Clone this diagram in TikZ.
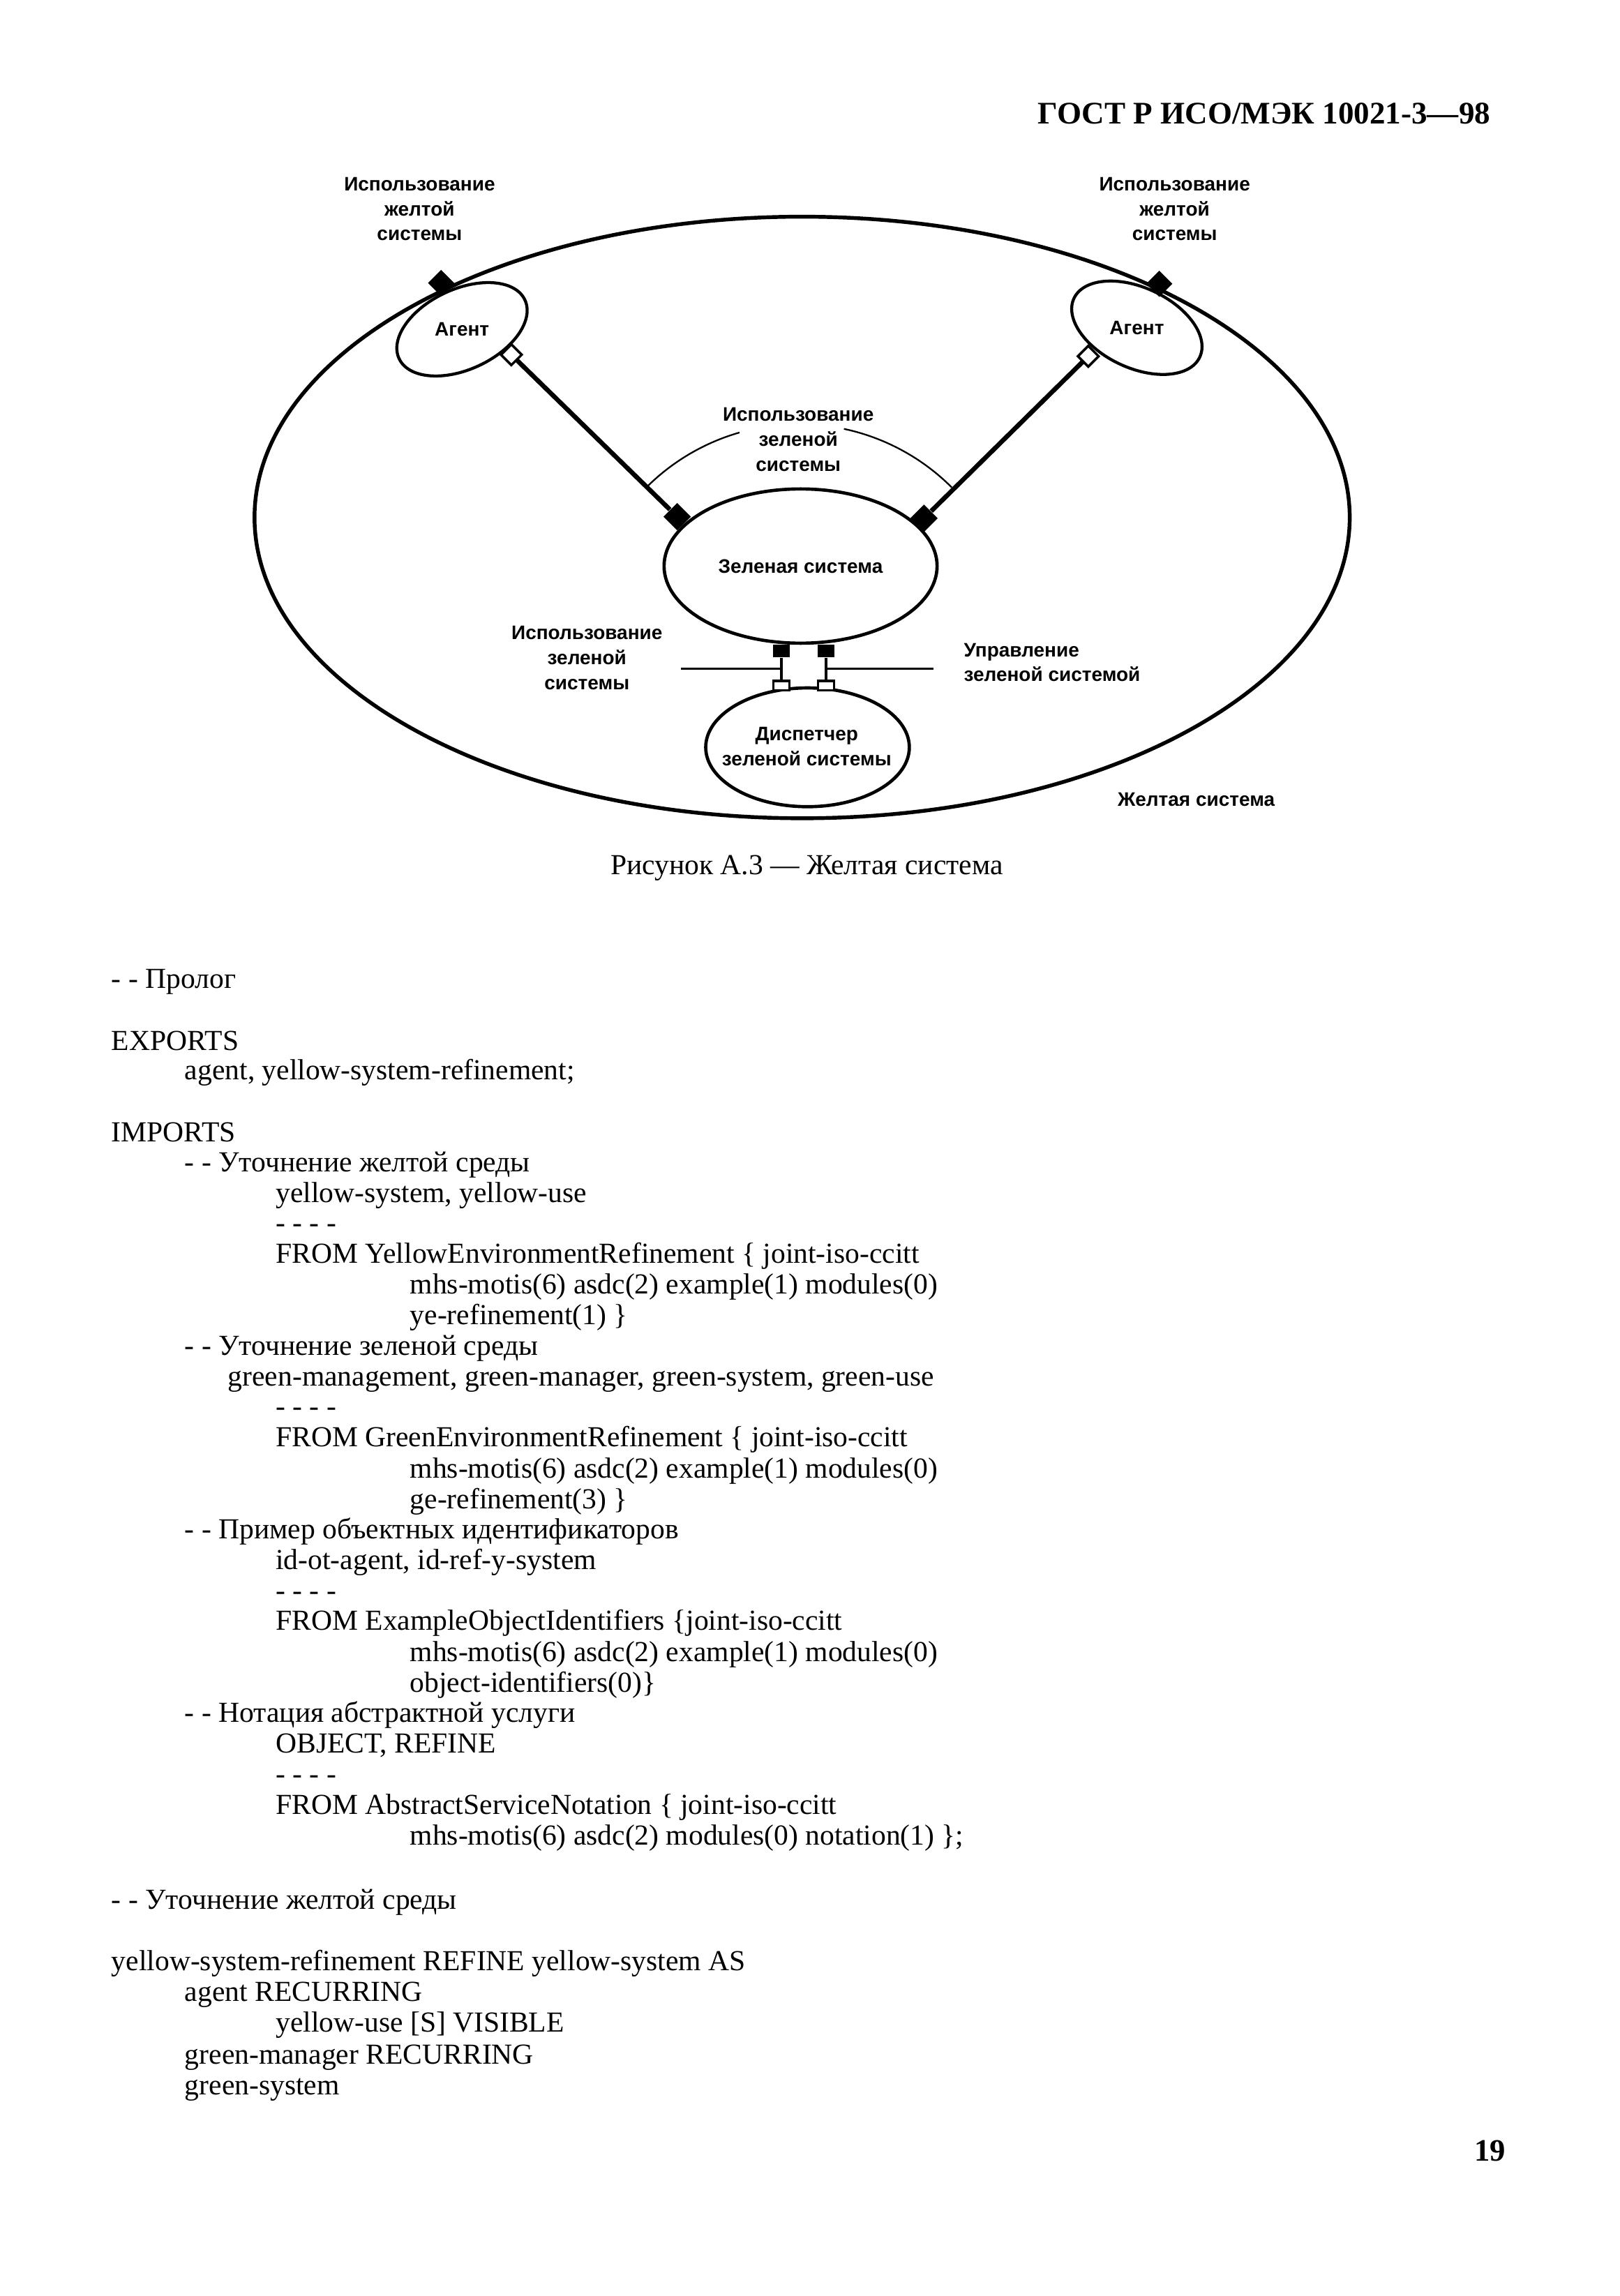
\documentclass[tikz,border=0pt]{standalone}
\usepackage{fontspec}
\setmainfont{Liberation Serif}
\newfontfamily\labelfont{Liberation Sans}
\usepackage{tikz}
\usetikzlibrary{
shapes.geometric
}

\begin{document}
\begin{tikzpicture}[
    x=1cm,
    y=1cm,
    lbl/.style={
        font=\labelfont\bfseries\fontsize{7.2}{9.2}\selectfont,
        inner sep=0pt,
        align=center
    },
    codeline/.style={
        anchor=base west,
        inner sep=0pt,
        font=\fontsize{10.7}{11.3}\selectfont
    },
    system/.style={
        ellipse,
        draw,
        line width=1.2pt,
        inner sep=0pt
    },
    fullport/.style={
        rectangle,
        fill=black,
        inner sep=0pt,
        minimum size=0.24cm,
        rotate=45
    },
    emptyport/.style={
        rectangle,
        draw,
        fill=white,
        line width=0.9pt,
        inner sep=0pt,
        minimum size=0.19cm,
        rotate=45
    },
    binding/.style={
        line width=1.7pt
    },
    thinline/.style={
        line width=0.6pt
    }
]

% Page
\fill[white] (0,0) rectangle (21,29.77);
\useasboundingbox (0,0) rectangle (21,29.77);

% =========================
% HEADER
% =========================
\node[
    anchor=base east,
    inner sep=0pt,
    font=\fontsize{11.6}{14}\selectfont\bfseries
]
(header) at (19.33,28.16)
{ГОСТ Р ИСО/МЭК 10021-3—98};

% =========================
% YELLOW SYSTEM
% =========================
\node[
    system,
    line width=1.4pt,
    minimum width=14.2cm,
    minimum height=7.80cm
]
(yellow) at (10.40,23.06) {};

\node[lbl] (yellowtxt) at (15.51,19.40) {Желтая система};

% =========================
% AGENTS
% =========================
\node[
    system,
    line width=1.1pt,
    minimum width=1.80cm,
    minimum height=1.04cm,
    rotate=25
]
(agentL) at (5.99,25.50) {};

\node[
    system,
    line width=1.1pt,
    minimum width=1.80cm,
    minimum height=1.04cm,
    rotate=-25
]
(agentR) at (14.74,25.52) {};

\node[lbl] (agentLtxt) at (agentL.center) {Агент};
\node[lbl] (agentRtxt) at (agentR.center) {Агент};

\node[fullport] (portYL) at (5.72,26.10) {};
\node[fullport] (portYR) at (15.03,26.09) {};

\node[lbl] (useYL) at (5.44,27.06) {Использование\\желтой\\системы};
\node[lbl] (useYR) at (15.23,27.06) {Использование\\желтой\\системы};

% =========================
% GREEN SYSTEM
% =========================
\node[
    system,
    minimum width=3.54cm,
    minimum height=2.00cm
]
(green) at (10.38,22.43) {};

\node[lbl] (greentxt) at (green.center) {Зеленая система};

\node[fullport, minimum size=0.25cm] (portGL) at (8.78,23.07) {};
\node[fullport, minimum size=0.25cm] (portGR) at (11.98,23.05) {};

% bindings agent -- green
\draw[binding] (portGL) -- (6.63,25.17);
\draw[binding] (portGR) -- (14.11,25.15);

\node[emptyport] (openL) at (6.63,25.17) {};
\node[emptyport] (openR) at (14.11,25.15) {};

% arc with label
\coordinate (arcC) at (10.36,21.47);
\draw[thinline] (arcC) ++(134.5:2.8) arc[start angle=134.5, end angle=106, radius=2.8];
\draw[thinline] (arcC) ++(78:2.8) arc[start angle=78, end angle=45, radius=2.8];

\node[lbl] (useG) at (10.35,24.07) {Использование\\зеленой\\системы};

% =========================
% GREEN MANAGER
% =========================
\node[
    system,
    minimum width=2.64cm,
    minimum height=1.54cm
]
(disp) at (10.47,20.08) {};

\node[lbl] (disptxt) at (10.46,20.09) {Диспетчер\\зеленой системы};

\node[rectangle, fill=black, inner sep=0pt, minimum width=0.22cm, minimum height=0.17cm] (fsL) at (10.13,21.33) {};
\node[rectangle, fill=black, inner sep=0pt, minimum width=0.22cm, minimum height=0.17cm] (fsR) at (10.71,21.33) {};
\node[rectangle, draw, fill=white, line width=0.9pt, inner sep=0pt, minimum width=0.21cm, minimum height=0.12cm] (osL) at (10.13,20.88) {};
\node[rectangle, draw, fill=white, line width=0.9pt, inner sep=0pt, minimum width=0.21cm, minimum height=0.12cm] (osR) at (10.71,20.88) {};

\draw[line width=0.9pt] (fsL) -- (osL);
\draw[line width=0.9pt] (fsR) -- (osR);

\coordinate (hL) at (8.83,21.10);
\coordinate (hR) at (12.10,21.10);
\draw[thinline] (hL) -- (hL -| fsL);
\draw[thinline] (hR) -- (hR -| fsR);

\node[lbl] (useGB) at (7.61,21.24) {Использование\\зеленой\\системы};
\node[lbl, anchor=west, align=left] (mgmt) at (12.49,21.18) {Управление\\зеленой системой};

% =========================
% CAPTION
% =========================
\node[
    anchor=base,
    inner sep=0pt,
    font=\fontsize{10.7}{11.3}\selectfont
]
(caption) at (10.46,18.43)
{Рисунок А.3 — Желтая система};

% =========================
% MODULE TEXT
% =========================
\node[codeline] (c01) at (1.44,16.96) {- - Пролог};
\node[codeline] (c02) at (1.44,16.15) {EXPORTS};
\node[codeline] (c03) at (2.39,15.77) {agent, yellow-system-refinement;};
\node[codeline] (c04) at (1.44,14.97) {IMPORTS};
\node[codeline] (c05) at (2.39,14.58) {- - Уточнение желтой среды};
\node[codeline] (c06) at (3.57,14.18) {yellow-system, yellow-use};
\node[codeline] (c07) at (3.57,13.79) {- - - -};
\node[codeline] (c08) at (3.57,13.39) {FROM YellowEnvironmentRefinement \{ joint-iso-ccitt};
\node[codeline] (c09) at (5.31,12.99) {mhs-motis(6) asdc(2) example(1) modules(0)};
\node[codeline] (c10) at (5.31,12.60) {ye-refinement(1) \}};
\node[codeline] (c11) at (2.39,12.20) {- - Уточнение зеленой среды};
\node[codeline] (c12) at (2.95,11.80) {green-management, green-manager, green-system, green-use};
\node[codeline] (c13) at (3.57,11.41) {- - - -};
\node[codeline] (c14) at (3.57,11.01) {FROM GreenEnvironmentRefinement \{ joint-iso-ccitt};
\node[codeline] (c15) at (5.31,10.61) {mhs-motis(6) asdc(2) example(1) modules(0)};
\node[codeline] (c16) at (5.31,10.21) {ge-refinement(3) \}};
\node[codeline] (c17) at (2.39,9.82) {- - Пример объектных идентификаторов};
\node[codeline] (c18) at (3.57,9.42) {id-ot-agent, id-ref-y-system};
\node[codeline] (c19) at (3.57,9.02) {- - - -};
\node[codeline] (c20) at (3.57,8.63) {FROM ExampleObjectIdentifiers \{joint-iso-ccitt};
\node[codeline] (c21) at (5.31,8.23) {mhs-motis(6) asdc(2) example(1) modules(0)};
\node[codeline] (c22) at (5.31,7.83) {object-identifiers(0)\}};
\node[codeline] (c23) at (2.39,7.44) {- - Нотация абстрактной услуги};
\node[codeline] (c24) at (3.57,7.04) {OBJECT, REFINE};
\node[codeline] (c25) at (3.57,6.64) {- - - -};
\node[codeline] (c26) at (3.57,6.25) {FROM AbstractServiceNotation \{ joint-iso-ccitt};
\node[codeline] (c27) at (5.31,5.85) {mhs-motis(6) asdc(2) modules(0) notation(1) \};};
\node[codeline] (c28) at (1.44,5.02) {- - Уточнение желтой среды};
\node[codeline] (c29) at (1.44,4.22) {yellow-system-refinement REFINE yellow-system AS};
\node[codeline] (c30) at (2.39,3.82) {agent RECURRING};
\node[codeline] (c31) at (3.57,3.42) {yellow-use [S] VISIBLE};
\node[codeline] (c32) at (2.39,3.01) {green-manager RECURRING};
\node[codeline] (c33) at (2.39,2.61) {green-system};

% Page number
\node[
    anchor=base east,
    inner sep=0pt,
    font=\fontsize{11.5}{13}\selectfont\bfseries
]
(pagenum) at (19.53,1.75)
{19};

\end{tikzpicture}
\end{document}
